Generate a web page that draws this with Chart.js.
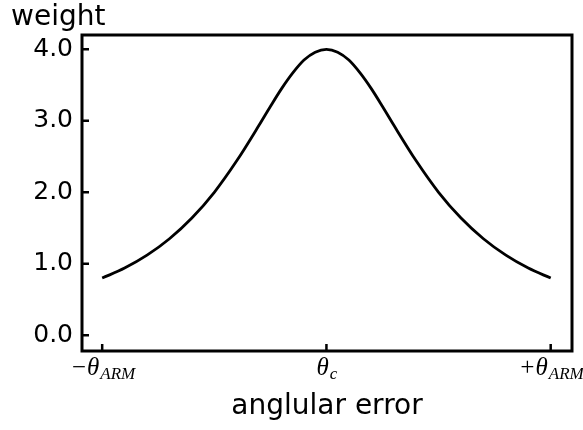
<!DOCTYPE html>
<html>
<head>
<meta charset="utf-8">
<script src="https://cdn.jsdelivr.net/npm/chart.js@4/dist/chart.umd.min.js"></script>
<style>
  html, body { margin: 0; padding: 0; background: #fff; }
  #wrap { width: 583px; height: 430px; }
</style>
</head>
<body>
<div id="wrap"><canvas id="weightChart"></canvas></div>
<script>
// angular error, in units of theta_ARM (theta_c at 0)
const angles = [-1.0, -0.9, -0.8, -0.7, -0.6, -0.5, -0.4, -0.3, -0.25, -0.2, -0.15, -0.1, -0.05, 0.0,
                0.05, 0.1, 0.15, 0.2, 0.25, 0.3, 0.4, 0.5, 0.6, 0.7, 0.8, 0.9, 1.0];
const weights = [0.80, 0.94, 1.12, 1.35, 1.64, 2.00, 2.44, 2.94, 3.20, 3.45, 3.67, 3.85, 3.96, 4.00,
                 3.96, 3.85, 3.67, 3.45, 3.20, 2.94, 2.44, 2.00, 1.64, 1.35, 1.12, 0.94, 0.80];
const yTicks = [0, 1, 2, 3, 4];
const xTicks = [-1, 0, 1];
// main symbol + subscript for each x tick
const xTickLabels = [['\u2212\u03b8', 'ARM'], ['\u03b8', 'c'], ['+\u03b8', 'ARM']];

const sansFont = "'DejaVu Sans', 'Open Sans', sans-serif";
const serifFont = "'Liberation Serif', 'DejaVu Serif', serif";

// frame, inward tick marks, math tick labels and the y title
const framePlugin = {
  id: 'frame',
  afterDatasetsDraw(chart) {
    const ctx = chart.ctx;
    const area = chart.chartArea;
    const xs = chart.scales.x, ys = chart.scales.y;
    ctx.save();
    ctx.strokeStyle = '#000';
    ctx.lineWidth = 3;
    ctx.strokeRect(area.left, area.top, area.right - area.left, area.bottom - area.top);

    ctx.lineWidth = 2.5;
    ctx.beginPath();
    yTicks.forEach(v => {
      const y = ys.getPixelForValue(v);
      ctx.moveTo(area.left, y);
      ctx.lineTo(area.left + 7, y);
    });
    xTicks.forEach(v => {
      const x = xs.getPixelForValue(v);
      ctx.moveTo(x, area.bottom);
      ctx.lineTo(x, area.bottom - 7);
    });
    ctx.stroke();

    ctx.fillStyle = '#000';
    ctx.textBaseline = 'alphabetic';
    ctx.textAlign = 'left';
    xTicks.forEach((v, i) => {
      const [main, sub] = xTickLabels[i];
      ctx.font = 'italic 25px ' + serifFont;
      const wMain = ctx.measureText(main).width;
      ctx.font = 'italic 17px ' + serifFont;
      const wSub = ctx.measureText(sub).width;
      const x0 = xs.getPixelForValue(v) - (wMain + wSub) / 2;
      ctx.font = 'italic 25px ' + serifFont;
      ctx.fillText(main, x0, 375);
      ctx.font = 'italic 17px ' + serifFont;
      ctx.fillText(sub, x0 + wMain + 1, 379);
    });

    ctx.font = '28px ' + sansFont;
    ctx.fillText('weight', 11, 25);
    ctx.restore();
  }
};

new Chart(document.getElementById('weightChart'), {
  type: 'line',
  data: {
    datasets: [{
      data: angles.map((a, i) => ({ x: a, y: weights[i] })),
      borderColor: '#000',
      borderWidth: 2.8,
      pointRadius: 0,
      fill: false,
      cubicInterpolationMode: 'monotone'
    }]
  },
  options: {
    responsive: true,
    maintainAspectRatio: false,
    animation: false,
    layout: { padding: { top: 35, right: 11, left: 0, bottom: 0 } },
    plugins: {
      legend: { display: false },
      tooltip: { enabled: false }
    },
    scales: {
      x: {
        type: 'linear',
        min: -1.09,
        max: 1.095,
        afterBuildTicks: s => { s.ticks = xTicks.map(v => ({ value: v })); },
        afterFit: s => { s.height = 79; },
        ticks: { display: false },
        grid: { display: false, drawTicks: false },
        border: { display: false },
        title: {
          display: true,
          text: 'anglular error',
          color: '#000',
          font: { family: sansFont, size: 28 },
          padding: { top: 0, bottom: 6 }
        }
      },
      y: {
        min: -0.22,
        max: 4.2,
        afterBuildTicks: s => { s.ticks = yTicks.map(v => ({ value: v })); },
        afterFit: s => { s.width = 82; },
        ticks: {
          color: '#000',
          padding: 9,
          font: { family: sansFont, size: 25 },
          callback: v => v.toFixed(1)
        },
        grid: { display: false, drawTicks: false },
        border: { display: false }
      }
    }
  },
  plugins: [framePlugin]
});
</script>
</body>
</html>
